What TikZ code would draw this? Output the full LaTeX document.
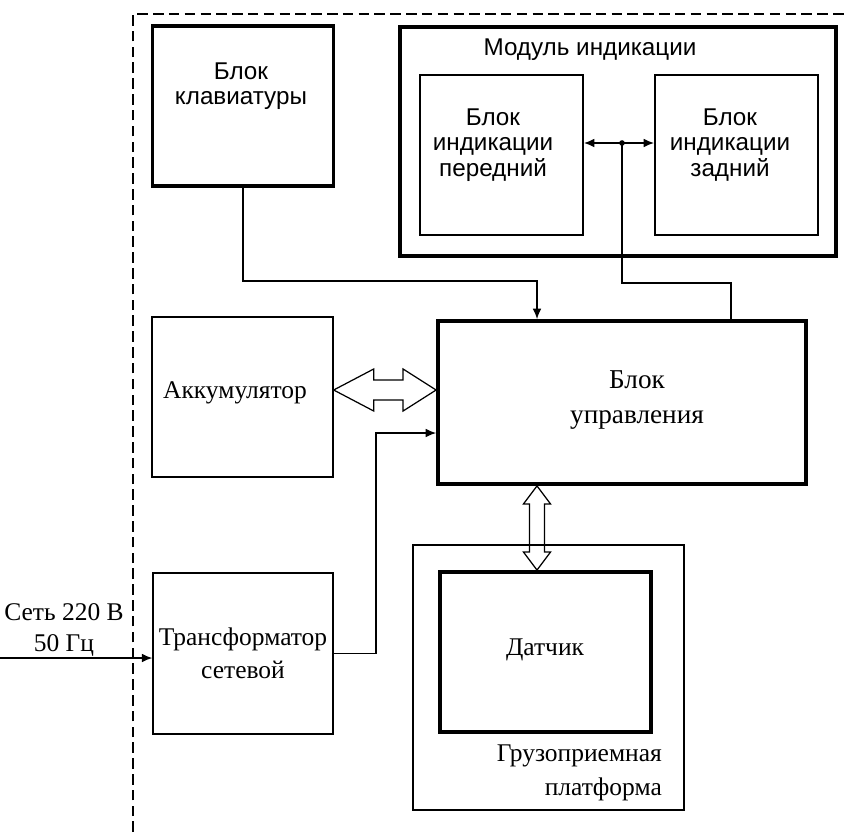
\documentclass[tikz,border=0pt]{standalone}
\usepackage{fontspec}
\setmainfont{Liberation Serif}
\setsansfont{Liberation Sans}
\usetikzlibrary{positioning}
\usetikzlibrary{calc}
\usetikzlibrary{arrows.meta}

\tikzset{
  thickbox/.style={draw, line width=2.2pt, inner sep=0pt},
  midbox/.style={draw, line width=1.1pt, inner sep=0pt},
  thinbox/.style={draw, line width=0.8pt, inner sep=0pt},
  sanstext/.style={font=\sffamily\fontsize{13.8}{14.5}\selectfont, align=center},
  seriftext/.style={font=\fontsize{14.5}{19}\selectfont, align=center},
  wire/.style={line width=0.7pt},
  tip/.style={-{Latex[length=6pt,width=5pt]}},
  hollow/.style={draw, line width=0.7pt, line join=miter},
}

\begin{document}
\begin{tikzpicture}[x=0.02cm, y=-0.02cm]
    \useasboundingbox (0,0) rectangle (845,832);

    % device frame
    \draw[wire, dash pattern=on 6pt off 3pt] (133,832) -- (133,14) -- (845,14);

    % upper blocks
    \node[thickbox, minimum width=3.62cm, minimum height=3.2cm] (klav) at (243,106) {};
    \node[sanstext] (klavtxt) at (241,86) {Блок\\клавиатуры};

    \node[thickbox, minimum width=8.72cm, minimum height=4.58cm] (modul) at (618,141.5) {};
    \node[sanstext] (modultxt) at (590,50) {Модуль индикации};
    \node[midbox, minimum width=3.26cm, minimum height=3.2cm] (pered) at (501.5,155) {};
    \node[sanstext] (peredtxt) at (493,145) {Блок\\индикации\\передний};
    \node[midbox, minimum width=3.26cm, minimum height=3.2cm] (zadn) at (736.5,155) {};
    \node[sanstext] (zadntxt) at (730,145) {Блок\\индикации\\задний};

    % middle blocks
    \node[thinbox, minimum width=3.62cm, minimum height=3.2cm] (akk) at (242.5,397) {};
    \node[seriftext] (akktxt) at (235,393) {Аккумулятор};
    \node[thickbox, minimum width=7.36cm, minimum height=3.26cm] (upr) at (622,402.5) {};
    \node[seriftext, font=\fontsize{15.5}{20}\selectfont] (uprtxt) at (637,400) {Блок\\управления};

    % lower blocks
    \node[thinbox, minimum width=3.6cm, minimum height=3.22cm] (trans) at (243,653.5) {};
    \node[seriftext] (transtxt) at (243,653.5) {Трансформатор\\сетевой};
    \node[thinbox, minimum width=5.42cm, minimum height=5.3cm] (platf) at (548.5,677.5) {};
    \node[seriftext, align=right, anchor=east] (platftxt) at (668,773) {Грузоприемная\\платформа};
    \node[thickbox, minimum width=4.22cm, minimum height=3.2cm] (dat) at (545.5,652) {};
    \node[seriftext] (dattxt) at (545,650) {Датчик};

    % mains input
    \coordinate (mains) at (0,658);
    \node[seriftext, font=\fontsize{14.5}{18}\selectfont] (mainstxt) at (64,630) {Сеть 220 В\\50 Гц};
    \draw[wire, tip] (mains) -- (mains -| trans.west);

    % links
    \coordinate (junc) at (622,143);
    \draw[wire, {Latex[length=6pt,width=5pt]}-{Latex[length=6pt,width=5pt]}]
        ($(pered.east)+(0,-12)$) -- ($(zadn.west)+(0,-12)$);
    \fill (junc) circle (1.6pt);
    \coordinate (indknee) at (731,283);
    \draw[wire] (junc) |- (indknee) -- (indknee |- upr.north);

    \coordinate (klavknee) at (537,281);
    \draw[wire, tip] (klav.south) |- (klavknee) -- (klavknee |- upr.north);

    \coordinate (transknee) at (376,433);
    \draw[wire, tip] (trans.east) -| (transknee) -- (transknee -| upr.west);

    % wide arrows
    \coordinate (hl) at ($(akk.east)+(0,-7)$);
    \coordinate (hr) at (upr.west |- hl);
    \draw[hollow] (hl) -- ++(40,-21) -- ++(0,11) -- ($(hr)+(-33,-10)$) -- ++(0,-11) -- (hr)
        -- ++(-33,21) -- ++(0,-11) -- ($(hl)+(40,10)$) -- ++(0,11) -- cycle;

    \coordinate (vt) at (upr.south -| klavknee);
    \coordinate (vb) at (vt |- dat.north);
    \draw[hollow] (vt) -- ++(13.5,18) -- ++(-6,0) -- ($(vb)+(7.5,-18)$) -- ++(6,0) -- (vb)
        -- ++(-13.5,-18) -- ++(6,0) -- ($(vt)+(-7.5,18)$) -- ++(-6,0) -- cycle;
\end{tikzpicture}
\end{document}
